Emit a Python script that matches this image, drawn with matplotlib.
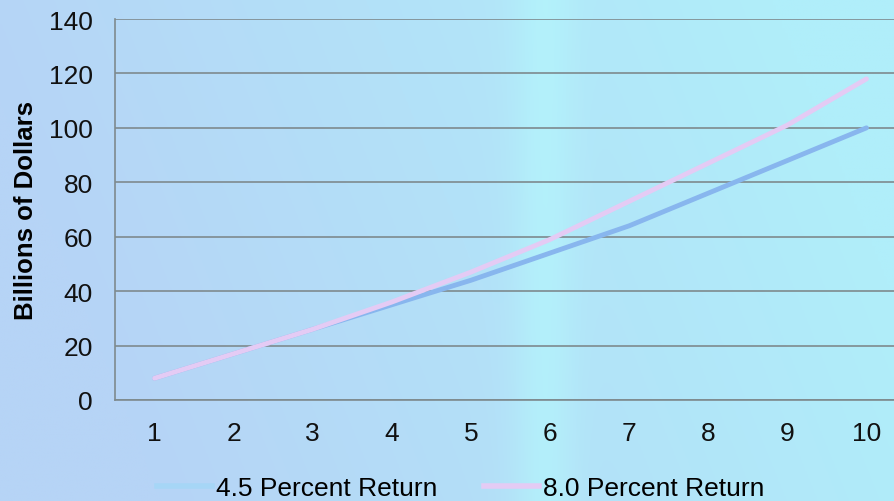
import numpy as np
import matplotlib.pyplot as plt

plt.rcParams['font.family'] = ['Liberation Sans', 'DejaVu Sans']

# data
years = [1, 2, 3, 4, 5, 6, 7, 8, 9, 10]
return_45 = [8, 17, 26, 35, 44, 54, 64, 76, 88, 100]
return_80 = [8, 17, 26, 36, 47, 59, 73, 87, 101, 118]
series_labels = ['4.5 Percent Return', '8.0 Percent Return']

W, H = 894, 502
fig = plt.figure(figsize=(W / 100, H / 100), dpi=100)

# slide-like background: light blue to cyan with a bright vertical band
bg = fig.add_axes([0, 0, 1, 1])
xx, yy = np.meshgrid(np.linspace(0, 1, 300), np.linspace(0, 1, 200))
left = np.array([182, 212, 246]) / 255
right = np.array([176, 238, 250]) / 255
t = np.clip(xx * 1.1 + (1 - yy) * 0.25 - 0.2, 0, 1)[..., None]
img = left * (1 - t) + right * t
band = np.exp(-((xx - 0.61) / 0.035) ** 2)[..., None] * 0.6
img = img * (1 - band) + np.array([180, 248, 252]) / 255 * band
bg.imshow(img, aspect='auto', extent=[0, 1, 0, 1], origin='upper')
bg.set_axis_off()

# plot area runs past the right edge of the picture
x0, x1 = 115 / W, 906 / W
y0, y1 = (H - 401) / H, (H - 20) / H
ax = fig.add_axes([x0, y0, x1 - x0, y1 - y0])
ax.patch.set_alpha(0)

ax.plot(years, return_45, color='#88b6ee', lw=3.5, solid_capstyle='round', zorder=3)
ax.plot(years, return_80, color='#e4cbf4', lw=3.5, solid_capstyle='round', zorder=4)

ax.set_xlim(0.5, 10.5)
ax.set_ylim(0, 140)
ax.set_yticks(range(0, 141, 20))
ax.set_xticks(years)
ax.grid(axis='y', color='#7e8a8e', lw=1.2)
ax.set_axisbelow(True)
for s in ['top', 'right']:
    ax.spines[s].set_visible(False)
for s in ['left', 'bottom']:
    ax.spines[s].set_color('#7e8a8e')
    ax.spines[s].set_linewidth(1.2)
ax.tick_params(length=0, labelsize=19, colors='#111111')
ax.tick_params(axis='x', pad=15)
ax.tick_params(axis='y', pad=16)
ax.set_ylabel('Billions of Dollars', fontsize=18.5, fontweight='bold', labelpad=8)

# legend below the axis
fig.legend(
    [plt.Line2D([], [], color='#a6d6f6', lw=4), plt.Line2D([], [], color='#e4cbf4', lw=4)],
    series_labels, loc='lower left', bbox_to_anchor=(133 / W, -0.045), ncol=2,
    frameon=False, fontsize=19, handlelength=2.1, handletextpad=0.15, columnspacing=1.75,
)

fig.savefig('out.png', dpi=100)
